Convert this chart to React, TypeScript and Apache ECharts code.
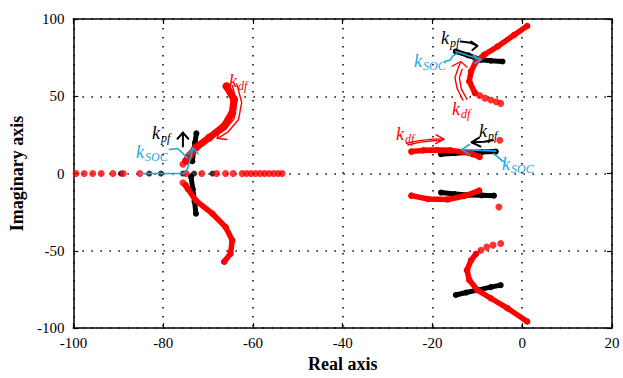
import React, { useEffect, useRef } from "react";
import * as echarts from "echarts";

// ---------- data ----------
const xTicks = [-100, -80, -60, -40, -20, 0, 20];
const yTicks = [-100, -50, 0, 50, 100];

// sparse poles on the real axis
const redAxisX = [-99.4, -97.6, -95.7, -93.8, -91.2, -88.9, -85.2, -74.9, -71.4, -68.1, -66.1, -64.4, -62.4, -61.4, -60.4, -59.4, -58.4, -57.4, -56.4, -55.4, -54.4, -53.5];
const blackAxisX = [-89.4, -83.1, -80.5, -75.6, -73.1, -69.0];

// isolated red dots
const redDots = [[-75.6, 6.0], [-75.6, -6.0], [-5.0, 21.5], [-5.2, -21.7], [-9.5, 50.5], [-8.3, 48.8], [-7.0, 47.6], [-5.8, 46.5], [-4.8, 45.4], [-4.8, -45.3], [-6.5, -46.3], [-7.9, -47.6], [-9.2, -49.6]];

// dense root-locus trails
const redUpperLeft = [[-74.9, 8.2], [-74.2, 11.4], [-72.7, 16.8], [-69.7, 23.3], [-66.4, 30.7], [-64.6, 39.4], [-64.2, 47.9], [-65.9, 56.5]];
const redLowerLeft = [[-75.0, -7.5], [-74.5, -10.0], [-72.7, -17.5], [-69.0, -26.0], [-66.1, -34.6], [-64.6, -43.2], [-65.0, -51.8], [-66.4, -57.1]];
const blackUpperLeft = [[-73.5, 8.0], [-73.2, 15.0], [-72.9, 20.0], [-72.6, 26.0]];
const blackLowerLeft = [[-73.8, -2.0], [-73.4, -10.0], [-73.0, -18.0], [-72.7, -26.0]];

const redUpperRight = [[-10.5, 52.0], [-11.8, 59.7], [-11.4, 66.1], [-10.3, 72.5], [-8.5, 76.8], [-5.5, 82.2], [-1.8, 89.7], [1.1, 95.5]];
const blackUpperRight = [[-14.8, 79.0], [-12.0, 76.5], [-9.2, 73.6], [-7.0, 73.0], [-4.4, 72.5]];
const redMidUpper = [[-24.7, 14.2], [-22.0, 15.0], [-19.0, 15.2], [-16.0, 15.0], [-13.0, 14.0], [-11.0, 12.5], [-9.5, 10.8]];
const blackMidUpper = [[-18.1, 12.5], [-15.0, 13.2], [-12.0, 13.6], [-9.0, 13.9], [-5.9, 14.2]];
const redMidLower = [[-24.7, -14.3], [-21.0, -16.5], [-16.6, -16.8], [-12.9, -14.5], [-9.6, -11.0]];
const blackMidLower = [[-18.1, -12.3], [-15.0, -13.3], [-12.0, -13.8], [-9.0, -14.1], [-6.3, -14.3]];
const redLowerRight = [[-10.3, -52.0], [-11.4, -56.1], [-12.3, -62.5], [-11.8, -68.9], [-10.0, -75.4], [-7.0, -80.7], [-3.3, -87.1], [1.1, -95.7]];
const blackLowerRight = [[-14.8, -78.6], [-12.5, -77.0], [-10.0, -75.4], [-7.0, -73.5], [-4.8, -72.2]];

// annotation arrows (data coordinates)
const blueArrows = [
  [[-85.2, 0], [-75.3, 0], [-74.6, 3], [-73.9, 10], [-73.3, 16.5]],
  [[-74.4, 12.5], [-73.3, 16.5], [-72.2, 12.8]],
  [[-78.6, 15.6], [-76.8, 16.2], [-75.6, 13.0], [-74.6, 10.0]],
  [[-14.8, 79.0], [-9.2, 73.6]],
  [[-10.9, 76.5], [-9.2, 73.6], [-10.6, 71.2]],
  [[-17.3, 72.5], [-16.0, 73.5], [-15.5, 76.0], [-14.6, 77.5]],
  [[-5.9, 14.5], [-13.3, 15.6]],
  [[-11.8, 18.8], [-13.5, 15.5], [-11.7, 12.2]],
  [[-6.4, 12.8], [-5.3, 10.5], [-4.6, 8.5], [-3.8, 7.4]],
];
const blackArrows = [
  [[-75.6, 17.5], [-75.6, 26.5]],
  [[-76.8, 22.5], [-75.6, 26.5], [-74.4, 22.5]],
  [[-13.7, 85.4], [-11.5, 84.6], [-10.0, 82.6]],
  [[-11.4, 85.4], [-10.0, 82.6], [-11.1, 79.9]],
  [[-6.5, 21.5], [-8.5, 20.6], [-11.2, 20.2]],
  [[-9.6, 23.3], [-11.3, 20.2], [-9.3, 17.5]],
];
const redArrows = [
  [[-63.6, 58.0], [-62.5, 46.0], [-63.2, 35.0], [-65.5, 27.0], [-67.6, 23.3]],
  [[-64.6, 57.0], [-63.6, 46.0], [-64.2, 35.5], [-66.2, 28.5], [-67.4, 26.0]],
  [[-67.3, 27.8], [-68.0, 22.8], [-65.8, 22.0]],
  [[-13.2, 47.5], [-14.5, 55.0], [-15.0, 62.0], [-14.3, 68.0], [-13.8, 71.5]],
  [[-12.3, 48.0], [-13.6, 55.0], [-14.0, 62.0], [-13.4, 67.5]],
  [[-15.6, 69.5], [-13.7, 72.5], [-12.3, 69.0]],
  [[-25.8, 19.6], [-23.0, 21.3], [-20.0, 22.3], [-17.6, 22.4]],
  [[-25.5, 18.5], [-22.7, 20.3], [-19.8, 21.2], [-18.3, 21.3]],
  [[-19.2, 25.0], [-17.4, 22.2], [-19.3, 19.4]],
];

const RED = "#ff0000";
const BLUE = "#1ea7e0";
const BLACK = "#000000";
const SERIF = "'Liberation Serif', 'Times New Roman', serif";

function trail(pts: number[][], color: string, width: number, z: number) {
  return {
    type: "line",
    data: pts,
    symbol: "circle",
    symbolSize: width + 1,
    showSymbol: true,
    lineStyle: { color, width, cap: "round", join: "round" },
    itemStyle: { color },
    silent: true,
    z,
  };
}
function stroke(pts: number[][], color: string, width: number, z: number) {
  return {
    type: "line",
    data: pts,
    showSymbol: false,
    symbol: "none",
    lineStyle: { color, width, cap: "round", join: "round" },
    silent: true,
    z,
  };
}

function kLabel(x: number, y: number, sub: string, color: string) {
  return {
    type: "group",
    x,
    y,
    z: 100,
    children: [
      {
        type: "text",
        x: 0,
        y: 0,
        style: { text: "k", fill: color, font: `italic 18px ${SERIF}` },
      },
      {
        type: "text",
        x: 9,
        y: 8,
        style: { text: sub, fill: color, font: `italic 12px ${SERIF}` },
      },
    ],
  };
}

export default function App() {
  const ref = useRef<HTMLDivElement>(null);
  useEffect(() => {
    if (!ref.current) return;
    document.body.style.margin = "0";
    const chart = echarts.init(ref.current, undefined, { renderer: "svg" });
    const axisCommon = {
      min: -100,
      axisLine: { show: true, onZero: false, lineStyle: { color: BLACK, width: 1.5 } },
      axisTick: { show: true, inside: true, length: 5, lineStyle: { color: BLACK, width: 1.2 } },
    };
    const series: any[] = [];
    series.push({
      type: "scatter",
      data: redAxisX.map((x) => [x, 0]).concat(redDots),
      symbolSize: 7,
      itemStyle: { color: RED },
      silent: true,
      z: 4,
    });
    series.push({
      type: "scatter",
      data: blackAxisX.map((x) => [x, 0]),
      symbolSize: 6,
      itemStyle: { color: BLACK },
      silent: true,
      z: 3,
    });
    [blackUpperLeft, blackLowerLeft, blackUpperRight, blackMidUpper, blackMidLower, blackLowerRight].forEach((p) =>
      series.push(trail(p, BLACK, 5, 3))
    );
    series.push(trail(redUpperLeft, RED, 7, 5));
    [redLowerLeft, redUpperRight, redMidUpper, redMidLower, redLowerRight].forEach((p) => series.push(trail(p, RED, 5.5, 5)));
    blueArrows.forEach((p) => series.push(stroke(p, BLUE, 1.6, 8)));
    blackArrows.forEach((p) => series.push(stroke(p, BLACK, 2, 8)));
    redArrows.forEach((p) => series.push(stroke(p, RED, 1.4, 8)));

    chart.setOption({
      animation: false,
      backgroundColor: "#ffffff",
      grid: { left: 70, right: 11, top: 19, bottom: 48 },
      xAxis: [
        {
          ...axisCommon,
          type: "value",
          max: 20,
          interval: 20,
          position: "bottom",
          name: "Real axis",
          nameLocation: "middle",
          nameGap: 26,
          nameTextStyle: { fontFamily: SERIF, fontWeight: "bold", fontSize: 18, color: BLACK },
          axisLabel: { fontFamily: SERIF, fontSize: 15, color: BLACK, margin: 7, formatter: (v: number) => (xTicks.includes(v) ? String(v) : "") },
          splitLine: { show: true, lineStyle: { color: BLACK, width: 1.5, type: [1.5, 7.5] } },
        },
        {
          ...axisCommon,
          type: "value",
          max: 20,
          interval: 20,
          position: "top",
          axisLabel: { show: false },
          splitLine: { show: false },
        },
      ],
      yAxis: [
        {
          ...axisCommon,
          type: "value",
          max: 100,
          interval: 50,
          position: "left",
          name: "Imaginary axis",
          nameLocation: "middle",
          nameGap: 42,
          nameTextStyle: { fontFamily: SERIF, fontWeight: "bold", fontSize: 18, color: BLACK },
          axisLabel: { fontFamily: SERIF, fontSize: 15, color: BLACK, margin: 9, formatter: (v: number) => (yTicks.includes(v) ? String(v) : "") },
          splitLine: { show: true, lineStyle: { color: BLACK, width: 1.5, type: [1.5, 7.5] } },
        },
        {
          ...axisCommon,
          type: "value",
          max: 100,
          interval: 50,
          position: "right",
          axisLabel: { show: false },
          splitLine: { show: false },
        },
      ],
      series,
      graphic: [
        kLabel(229, 72, "df", RED),
        kLabel(152, 124, "pf", BLACK),
        kLabel(136, 143, "SOC", BLUE),
        kLabel(441, 29, "pf", BLACK),
        kLabel(414, 52, "SOC", BLUE),
        kLabel(452, 100, "df", RED),
        kLabel(396, 125, "df", RED),
        kLabel(479, 122, "pf", BLACK),
        kLabel(502, 155, "SOC", BLUE),
      ],
    });
    return () => chart.dispose();
  }, []);
  return <div ref={ref} style={{ width: 623, height: 378 }} />;
}
